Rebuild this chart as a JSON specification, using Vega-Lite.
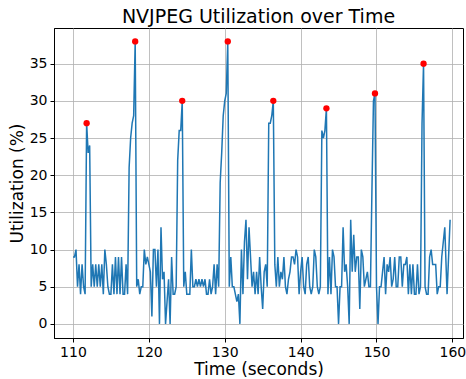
{
"$schema": "https://vega.github.io/schema/vega-lite/v6.json",
"width": 409, "height": 310,
"autosize": "none",
"padding": {"left": 54, "top": 28, "right": 3, "bottom": 41},
"title": {"text": "NVJPEG Utilization over Time", "font": "DejaVu Sans", "fontSize": 19, "fontWeight": "normal", "color": "black", "offset": 1, "anchor": "middle"},
"config": {
  "view": {"stroke": "black", "strokeWidth": 1},
  "axis": {"labelFont": "DejaVu Sans", "labelFontSize": 14, "labelColor": "black", "titleFont": "DejaVu Sans", "titleFontSize": 17, "titleFontWeight": "normal", "titleColor": "black", "tickColor": "black", "domainColor": "black", "tickSize": 4, "labelPadding": 3, "grid": true, "gridColor": "#b0b0b0", "gridWidth": 0.8}
},
"datasets": {
"series": [
{"t":110.0,"u":9},{"t":110.2,"u":9},{"t":110.4,"u":10},{"t":110.6,"u":5},{"t":110.8,"u":8},{"t":111.0,"u":4},{"t":111.2,"u":8},{"t":111.4,"u":5},{"t":111.6,"u":4},{"t":111.8,"u":27},
{"t":112.0,"u":23},{"t":112.2,"u":24},{"t":112.4,"u":5},{"t":112.6,"u":8},{"t":112.8,"u":5},{"t":113.0,"u":8},{"t":113.2,"u":5},{"t":113.4,"u":8},{"t":113.6,"u":5},{"t":113.8,"u":8},
{"t":114.0,"u":4},{"t":114.2,"u":10},{"t":114.4,"u":8},{"t":114.6,"u":5},{"t":114.8,"u":4},{"t":115.0,"u":4},{"t":115.2,"u":8},{"t":115.4,"u":4},{"t":115.6,"u":9},{"t":115.8,"u":4},
{"t":116.0,"u":9},{"t":116.2,"u":4},{"t":116.4,"u":9},{"t":116.6,"u":4},{"t":116.8,"u":4},{"t":117.0,"u":8},{"t":117.2,"u":4},{"t":117.4,"u":21},{"t":117.6,"u":25},{"t":117.8,"u":27},
{"t":118.0,"u":28},{"t":118.2,"u":38},{"t":118.4,"u":5},{"t":118.6,"u":6},{"t":118.8,"u":4},{"t":119.0,"u":5},{"t":119.2,"u":5},{"t":119.4,"u":10},{"t":119.6,"u":8},{"t":119.8,"u":9},
{"t":120.0,"u":8},{"t":120.2,"u":7},{"t":120.4,"u":1},{"t":120.6,"u":10},{"t":120.8,"u":10},{"t":121.0,"u":5},{"t":121.2,"u":10},{"t":121.4,"u":0},{"t":121.6,"u":13},{"t":121.8,"u":6},
{"t":122.0,"u":7},{"t":122.2,"u":0},{"t":122.4,"u":3},{"t":122.6,"u":6},{"t":122.8,"u":0},{"t":123.0,"u":9},{"t":123.2,"u":4},{"t":123.4,"u":4},{"t":123.6,"u":5},{"t":123.8,"u":22},
{"t":124.0,"u":26},{"t":124.2,"u":26},{"t":124.4,"u":30},{"t":124.6,"u":5},{"t":124.8,"u":7},{"t":125.0,"u":4},{"t":125.2,"u":4},{"t":125.4,"u":4},{"t":125.6,"u":10},{"t":125.8,"u":5},
{"t":126.0,"u":5},{"t":126.2,"u":6},{"t":126.4,"u":5},{"t":126.6,"u":6},{"t":126.8,"u":5},{"t":127.0,"u":6},{"t":127.2,"u":5},{"t":127.4,"u":6},{"t":127.6,"u":4},{"t":127.8,"u":4},
{"t":128.0,"u":6},{"t":128.2,"u":4},{"t":128.4,"u":5},{"t":128.6,"u":8},{"t":128.8,"u":4},{"t":129.0,"u":8},{"t":129.2,"u":5},{"t":129.4,"u":19},{"t":129.6,"u":23},{"t":129.8,"u":28},
{"t":130.0,"u":30},{"t":130.2,"u":31},{"t":130.4,"u":38},{"t":130.6,"u":5},{"t":130.8,"u":9},{"t":131.0,"u":5},{"t":131.2,"u":5},{"t":131.4,"u":4},{"t":131.6,"u":3},{"t":131.8,"u":4},
{"t":132.0,"u":0},{"t":132.2,"u":10},{"t":132.4,"u":4},{"t":132.6,"u":11},{"t":132.8,"u":14},{"t":133.0,"u":6},{"t":133.2,"u":13},{"t":133.4,"u":9},{"t":133.6,"u":5},{"t":133.8,"u":7},
{"t":134.0,"u":4},{"t":134.2,"u":7},{"t":134.4,"u":4},{"t":134.6,"u":9},{"t":134.8,"u":5},{"t":135.0,"u":2},{"t":135.2,"u":7},{"t":135.4,"u":8},{"t":135.6,"u":5},{"t":135.8,"u":27},
{"t":136.0,"u":27},{"t":136.2,"u":28},{"t":136.4,"u":30},{"t":136.6,"u":8},{"t":136.8,"u":5},{"t":137.0,"u":9},{"t":137.2,"u":5},{"t":137.4,"u":7},{"t":137.6,"u":6},{"t":137.8,"u":9},
{"t":138.0,"u":5},{"t":138.2,"u":4},{"t":138.4,"u":6},{"t":138.6,"u":7},{"t":138.8,"u":9},{"t":139.0,"u":9},{"t":139.2,"u":8},{"t":139.4,"u":10},{"t":139.6,"u":9},{"t":139.8,"u":4},
{"t":140.0,"u":7},{"t":140.2,"u":9},{"t":140.4,"u":5},{"t":140.6,"u":4},{"t":140.8,"u":8},{"t":141.0,"u":9},{"t":141.2,"u":5},{"t":141.4,"u":4},{"t":141.6,"u":5},{"t":141.8,"u":10},
{"t":142.0,"u":9},{"t":142.2,"u":5},{"t":142.4,"u":4},{"t":142.6,"u":5},{"t":142.8,"u":26},{"t":143.0,"u":25},{"t":143.2,"u":26},{"t":143.4,"u":29},{"t":143.6,"u":4},{"t":143.8,"u":9},
{"t":144.0,"u":4},{"t":144.2,"u":10},{"t":144.4,"u":9},{"t":144.6,"u":5},{"t":144.8,"u":5},{"t":145.0,"u":0},{"t":145.2,"u":5},{"t":145.4,"u":5},{"t":145.6,"u":13},{"t":145.8,"u":7},
{"t":146.0,"u":8},{"t":146.2,"u":5},{"t":146.4,"u":0},{"t":146.6,"u":14},{"t":146.8,"u":7},{"t":147.0,"u":12},{"t":147.2,"u":7},{"t":147.4,"u":9},{"t":147.6,"u":9},{"t":147.8,"u":2},
{"t":148.0,"u":10},{"t":148.2,"u":9},{"t":148.4,"u":5},{"t":148.6,"u":6},{"t":148.8,"u":7},{"t":149.0,"u":5},{"t":149.2,"u":5},{"t":149.4,"u":18},{"t":149.6,"u":30},{"t":149.8,"u":31},
{"t":150.0,"u":5},{"t":150.2,"u":0},{"t":150.4,"u":5},{"t":150.6,"u":5},{"t":150.8,"u":7},{"t":151.0,"u":9},{"t":151.2,"u":4},{"t":151.4,"u":8},{"t":151.6,"u":7},{"t":151.8,"u":9},
{"t":152.0,"u":5},{"t":152.2,"u":6},{"t":152.4,"u":9},{"t":152.6,"u":5},{"t":152.8,"u":5},{"t":153.0,"u":9},{"t":153.2,"u":9},{"t":153.4,"u":5},{"t":153.6,"u":8},{"t":153.8,"u":8},
{"t":154.0,"u":9},{"t":154.2,"u":4},{"t":154.4,"u":8},{"t":154.6,"u":4},{"t":154.8,"u":8},{"t":155.0,"u":4},{"t":155.2,"u":4},{"t":155.4,"u":8},{"t":155.6,"u":4},{"t":155.8,"u":5},
{"t":156.0,"u":27},{"t":156.2,"u":35},{"t":156.4,"u":5},{"t":156.6,"u":4},{"t":156.8,"u":4},{"t":157.0,"u":9},{"t":157.2,"u":10},{"t":157.4,"u":8},{"t":157.6,"u":8},{"t":157.8,"u":8},
{"t":158.0,"u":4},{"t":158.2,"u":5},{"t":158.4,"u":5},{"t":158.6,"u":9},{"t":159.0,"u":13},{"t":159.3,"u":4},{"t":159.7,"u":14}
],
"peaks": [
{"t":111.8,"u":27},{"t":118.2,"u":38},{"t":124.4,"u":30},{"t":130.4,"u":38},{"t":136.4,"u":30},{"t":143.4,"u":29},{"t":149.8,"u":31},{"t":156.2,"u":35}
]
},
"layer": [
{"data": {"name": "series"},
 "mark": {"type": "line", "color": "#1f77b4", "strokeWidth": 1.5},
 "encoding": {
  "x": {"field": "t", "type": "quantitative", "scale": {"domain": [107.5, 161.4], "nice": false, "zero": false}, "axis": {"title": "Time (seconds)", "values": [110,120,130,140,150,160], "titlePadding": 2}},
  "y": {"field": "u", "type": "quantitative", "scale": {"domain": [-1.9, 39.8], "nice": false, "zero": false}, "axis": {"title": "Utilization (%)", "values": [0,5,10,15,20,25,30,35], "titlePadding": 3}}
 }},
{"data": {"name": "peaks"},
 "mark": {"type": "point", "filled": true, "color": "red", "size": 40, "opacity": 1},
 "encoding": {
  "x": {"field": "t", "type": "quantitative"},
  "y": {"field": "u", "type": "quantitative"}
 }}
]
}
